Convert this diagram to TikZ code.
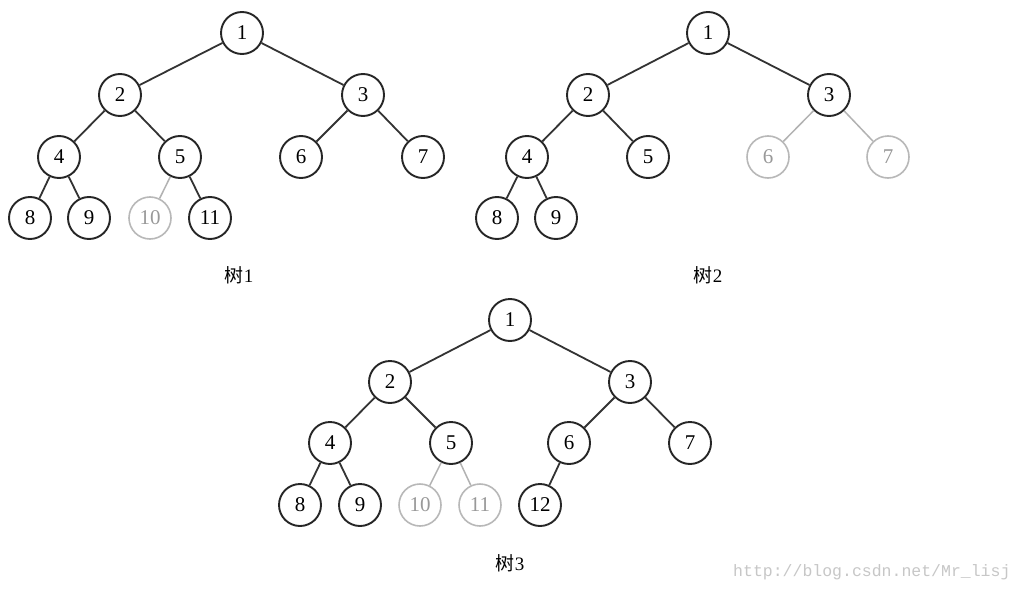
\documentclass[tikz,border=0pt]{standalone}
\usepackage{fontspec}
\setmainfont{Liberation Serif}
\newfontfamily\cjk{Noto Sans CJK SC}
\newfontfamily\wmfont{Liberation Mono}
\begin{document}
\begin{tikzpicture}[x=1pt,y=-1pt,
  tn/.style={circle,draw=black!85,line width=1.9pt,minimum size=42pt,inner sep=0pt,font=\fontsize{21}{21}\selectfont},
  gn/.style={tn,draw=black!28,text=black!40,line width=1.6pt},
  ed/.style={draw=black!80,line width=1.8pt},
  ged/.style={draw=black!30,line width=1.5pt},
  lab/.style={font=\fontsize{19}{19}\selectfont},
  wm/.style={font=\wmfont\fontsize{16.5}{16.5}\selectfont,text=black!22}]
\useasboundingbox[fill=white] (0,0) rectangle (1024,591);
% Tree 1
\node[tn] (a1) at (242,33) {1};
\node[tn] (a2) at (120,95) {2};
\node[tn] (a3) at (363,95) {3};
\node[tn] (a4) at (59,157) {4};
\node[tn] (a5) at (180,157) {5};
\node[tn] (a6) at (301,157) {6};
\node[tn] (a7) at (423,157) {7};
\node[tn] (a8) at (30,218) {8};
\node[tn] (a9) at (89,218) {9};
\node[gn] (a10) at (150,218) {10};
\node[tn] (a11) at (210,218) {11};
\draw[ed] (a1)--(a2) (a1)--(a3) (a2)--(a4) (a2)--(a5) (a3)--(a6) (a3)--(a7)
  (a4)--(a8) (a4)--(a9) (a5)--(a11);
\draw[ged] (a5)--(a10);
\node[lab] (l1) at (239,275) {{\cjk 树}1};
% Tree 2
\node[tn] (b1) at (708,33) {1};
\node[tn] (b2) at (588,95) {2};
\node[tn] (b3) at (829,95) {3};
\node[tn] (b4) at (527,157) {4};
\node[tn] (b5) at (648,157) {5};
\node[gn] (b6) at (768,157) {6};
\node[gn] (b7) at (888,157) {7};
\node[tn] (b8) at (497,218) {8};
\node[tn] (b9) at (556,218) {9};
\draw[ed] (b1)--(b2) (b1)--(b3) (b2)--(b4) (b2)--(b5) (b4)--(b8) (b4)--(b9);
\draw[ged] (b3)--(b6) (b3)--(b7);
\node[lab] (l2) at (708,275) {{\cjk 树}2};
% Tree 3
\node[tn] (c1) at (510,320) {1};
\node[tn] (c2) at (390,382) {2};
\node[tn] (c3) at (630,382) {3};
\node[tn] (c4) at (330,443) {4};
\node[tn] (c5) at (451,443) {5};
\node[tn] (c6) at (569,443) {6};
\node[tn] (c7) at (690,443) {7};
\node[tn] (c8) at (300,505) {8};
\node[tn] (c9) at (360,505) {9};
\node[gn] (c10) at (420,505) {10};
\node[gn] (c11) at (480,505) {11};
\node[tn] (c12) at (540,505) {12};
\draw[ed] (c1)--(c2) (c1)--(c3) (c2)--(c4) (c2)--(c5) (c3)--(c6) (c3)--(c7)
  (c4)--(c8) (c4)--(c9) (c6)--(c12);
\draw[ged] (c5)--(c10) (c5)--(c11);
\node[lab] (l3) at (510,563) {{\cjk 树}3};
\node[wm,anchor=east] (w) at (1014,572) {http://blog.csdn.net/Mr\_lisj};
\end{tikzpicture}
\end{document}
